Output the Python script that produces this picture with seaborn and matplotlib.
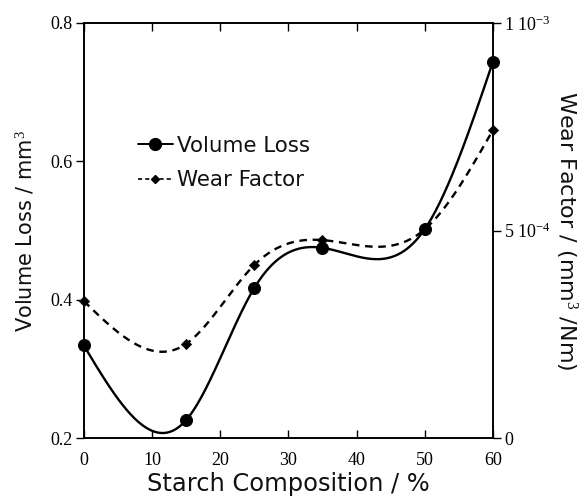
import numpy as np
import pandas as pd
import matplotlib
matplotlib.use("Agg")
import matplotlib.pyplot as plt
from matplotlib.lines import Line2D
import seaborn as sns

# ---------------------------------------------------------------------------
# Data
# ---------------------------------------------------------------------------
starch = [0, 15, 25, 35, 50, 60]                                  # %
volume_loss = [0.334, 0.226, 0.417, 0.475, 0.502, 0.744]         # mm^3
wear_factor = [3.30e-4, 2.27e-4, 4.17e-4, 4.77e-4, 5.03e-4, 7.42e-4]  # mm^3/Nm

left_ticks = [0.2, 0.4, 0.6, 0.8]
right_ticks = [0, 5e-4, 1e-3]
right_labels = ["0", r"$5\ 10^{-4}$", r"$1\ 10^{-3}$"]
x_ticks = [0, 10, 20, 30, 40, 50, 60]


def natural_spline(x, y, n=300):
    # natural cubic spline, only used to draw the smooth connecting curve
    x = np.asarray(x, float)
    y = np.asarray(y, float)
    k = len(x)
    h = np.diff(x)
    A = np.zeros((k, k))
    b = np.zeros(k)
    A[0, 0] = A[-1, -1] = 1
    for i in range(1, k - 1):
        A[i, i - 1] = h[i - 1]
        A[i, i] = 2 * (h[i - 1] + h[i])
        A[i, i + 1] = h[i]
        b[i] = 6 * ((y[i + 1] - y[i]) / h[i] - (y[i] - y[i - 1]) / h[i - 1])
    M = np.linalg.solve(A, b)
    xs = np.linspace(x[0], x[-1], n)
    idx = np.clip(np.searchsorted(x, xs) - 1, 0, k - 2)
    x0, x1 = x[idx], x[idx + 1]
    hh = x1 - x0
    ys = (M[idx] * (x1 - xs) ** 3 / (6 * hh) + M[idx + 1] * (xs - x0) ** 3 / (6 * hh)
          + (y[idx] / hh - M[idx] * hh / 6) * (x1 - xs)
          + (y[idx + 1] / hh - M[idx + 1] * hh / 6) * (xs - x0))
    return xs, ys


sns.set_style("white")
plt.rcParams["font.family"] = ["DejaVu Sans"]
plt.rcParams["text.color"] = "#111111"
plt.rcParams["axes.labelcolor"] = "#111111"
plt.rcParams["xtick.color"] = "black"
plt.rcParams["ytick.color"] = "black"
serif = ["Liberation Serif", "DejaVu Serif"]
plt.rcParams["mathtext.fontset"] = "custom"
plt.rcParams["mathtext.rm"] = "Liberation Serif"
plt.rcParams["mathtext.it"] = "Liberation Serif"

fig = plt.figure(figsize=(5.82, 4.99), dpi=100)
ax = fig.add_axes([0.144, 0.122, 0.703, 0.832])
ax2 = ax.twinx()

df = pd.DataFrame({"starch": starch, "vol": volume_loss, "wear": wear_factor})
xs, ys = natural_spline(starch, volume_loss)
xw, yw = natural_spline(starch, wear_factor)
curve_v = pd.DataFrame({"x": xs, "y": ys})
curve_w = pd.DataFrame({"x": xw, "y": yw})

sns.lineplot(data=curve_v, x="x", y="y", ax=ax, color="black", lw=1.7)
sns.scatterplot(data=df, x="starch", y="vol", ax=ax, color="black", s=75,
                marker="o", edgecolor="black", zorder=5, clip_on=False)
sns.lineplot(data=curve_w, x="x", y="y", ax=ax2, color="black", lw=1.7)
ax2.lines[-1].set_dashes([3.2, 2.4])
sns.scatterplot(data=df, x="starch", y="wear", ax=ax2, color="black", s=28,
                marker="D", edgecolor="black", zorder=5, clip_on=False)

ax.set_xlim(0, 60)
ax.set_ylim(0.2, 0.8)
ax2.set_ylim(0, 1e-3)

ax.set_xticks(x_ticks)
ax.set_xticklabels([str(t) for t in x_ticks], family=serif, fontsize=13)
ax.set_yticks(left_ticks)
ax.set_yticklabels([f"{t:.1f}" for t in left_ticks], family=serif, fontsize=13)
ax2.set_yticks(right_ticks)
ax2.set_yticklabels(right_labels, family=serif, fontsize=13)

ax.tick_params(axis="x", direction="in", top=True, bottom=True, length=6, width=1, pad=10)
ax.tick_params(axis="y", direction="out", left=True, length=6, width=1, pad=2)
ax2.tick_params(axis="y", direction="out", right=True, length=6, width=1, pad=2)
ax2.tick_params(axis="x", top=False, bottom=False)

for a in (ax, ax2):
    for s in a.spines.values():
        s.set_color("black")
        s.set_linewidth(1.2)

ax.set_xlabel("Starch Composition / %", fontsize=17.4, labelpad=2)
ax.set_ylabel(r"Volume Loss / mm$^3$", fontsize=15, labelpad=10)
ax2.set_ylabel(r"Wear Factor / (mm$^3$ /Nm)", fontsize=16, rotation=270, labelpad=20)

handles = [
    Line2D([], [], color="black", lw=1.4, marker="o", markersize=8.5),
    Line2D([], [], color="black", lw=1.2, ls=(0, (2.5, 1.8)), marker="D", markersize=4),
]
ax.legend(handles, ["Volume Loss", "Wear Factor"], loc="upper left",
          bbox_to_anchor=(0.085, 0.775), frameon=False, fontsize=15.4,
          handlelength=1.65, handletextpad=0.2, labelspacing=0.68)

fig.savefig("out.png", dpi=100)
